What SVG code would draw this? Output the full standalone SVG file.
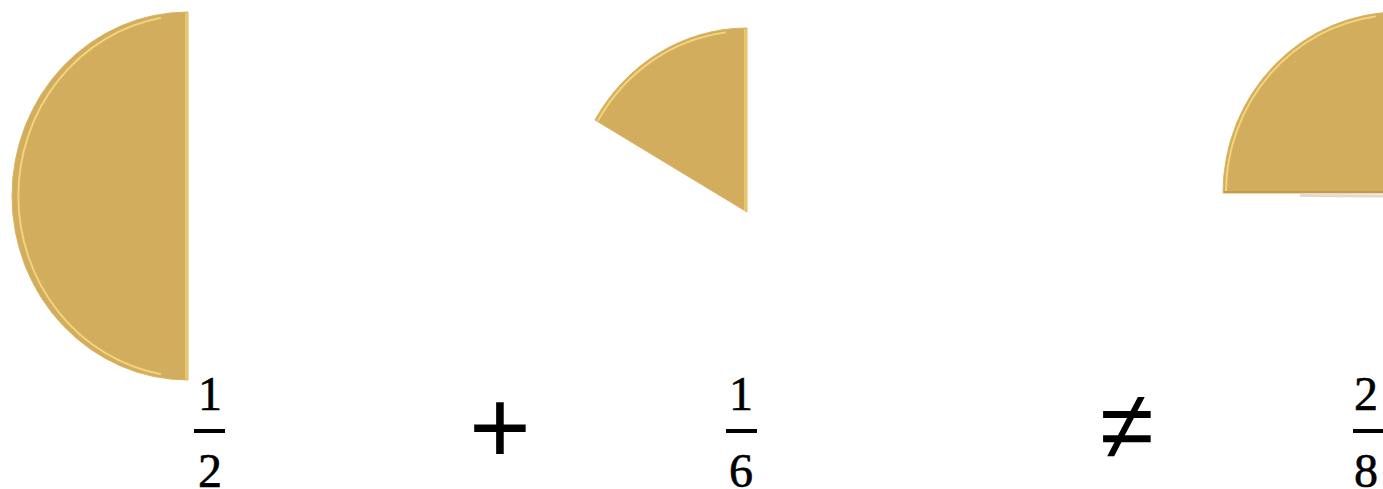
<svg xmlns="http://www.w3.org/2000/svg" width="1383" height="489" viewBox="0 0 1383 489">
  <style>
    .piece { fill: #D2AD5E; stroke: #D9B463; stroke-width: 1; }
    .hl { fill: none; stroke: #F7DA80; stroke-width: 2; stroke-linecap: round; }
    .edge { fill: none; stroke: #E8C66E; stroke-width: 3; }
    .digit { font-family: "Liberation Serif", "DejaVu Serif", serif; font-size: 48px; fill: #000; text-anchor: middle; stroke: #000; stroke-width: 0.6; }
    .op { font-family: "Liberation Sans", "DejaVu Sans", sans-serif; font-size: 106px; fill: #000; text-anchor: middle; }
    .bar { fill: #000; }
  </style>
  <rect width="1383" height="489" fill="#FFFFFF"/>

  <g id="half">
    <path class="piece" d="M188,12 A176,184 0 0 0 188,380 Z"/>
    <path class="hl" d="M160,18 A173,181 0 0 0 160,374" opacity="0.85"/>
    <line class="edge" x1="186.5" y1="13" x2="186.5" y2="379"/>
  </g>

  <g id="sixth">
    <path class="piece" d="M747,212 L747,28 A176,184 0 0 0 595,120 Z"/>
    <path class="hl" d="M725,32.5 A173,181 0 0 0 598,120.5" opacity="0.85"/>
    <line class="edge" x1="745.5" y1="29" x2="745.5" y2="211"/>
  </g>

  <g id="quarter">
    <line x1="1300" y1="195.5" x2="1383" y2="196" stroke="#A89A80" stroke-width="3" opacity="0.35"/>
    <path class="piece" d="M1399,193 L1399,12 A176,181 0 0 0 1223,193 Z"/>
    <path class="hl" d="M1375,16.5 A173,178 0 0 0 1226,191" opacity="0.85"/>
    <line x1="1224" y1="192" x2="1383" y2="192" stroke="#BF9C52" stroke-width="2"/>
  </g>

  <g id="frac-1-2">
    <text class="digit" x="210" y="410">1</text>
    <rect class="bar" x="194" y="429" width="31" height="4"/>
    <text class="digit" x="210" y="487">2</text>
  </g>

  <g id="plus">
    <text class="op" x="500" y="463">+</text>
  </g>

  <g id="frac-1-6">
    <text class="digit" x="741" y="410">1</text>
    <rect class="bar" x="726" y="429" width="31" height="4"/>
    <text class="digit" x="741" y="487">6</text>
  </g>

  <g id="not-equal">
    <text class="op" x="1127" y="459" style="font-size:98px">≠</text>
  </g>

  <g id="frac-2-8">
    <text class="digit" x="1366" y="410">2</text>
    <rect class="bar" x="1353" y="429" width="30" height="4"/>
    <text class="digit" x="1366" y="487">8</text>
  </g>
</svg>
